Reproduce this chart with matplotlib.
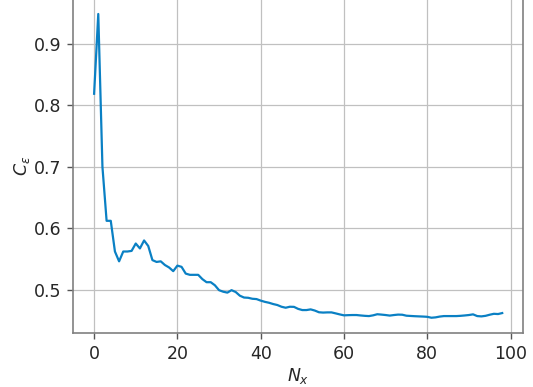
import matplotlib
matplotlib.use("Agg")
import matplotlib.pyplot as plt
import numpy as np

n_x = list(range(99))
c_eps = [
    0.819, 0.949, 0.700, 0.612, 0.612, 0.562, 0.546, 0.562, 0.562, 0.563,
    0.575, 0.567, 0.580, 0.571, 0.548, 0.545, 0.546, 0.540, 0.536, 0.530,
    0.539, 0.537, 0.526, 0.524, 0.524, 0.524, 0.517, 0.512, 0.512, 0.507,
    0.499, 0.4965, 0.495, 0.499, 0.496, 0.490, 0.487, 0.4866, 0.485, 0.4845,
    0.482, 0.480, 0.4785, 0.4764, 0.4748, 0.472, 0.4704, 0.472, 0.4718, 0.4685,
    0.4666, 0.4666, 0.4677, 0.4658, 0.4630, 0.4625, 0.4628, 0.4628, 0.4612, 0.4595,
    0.4580, 0.4583, 0.4585, 0.4585, 0.4578, 0.4572, 0.4568, 0.4580, 0.4598, 0.4592,
    0.4585, 0.4576, 0.4585, 0.4592, 0.4590, 0.4574, 0.4570, 0.4566, 0.4563, 0.4560,
    0.4556, 0.4541, 0.4547, 0.4560, 0.4568, 0.4568, 0.4568, 0.4568, 0.4572, 0.4578,
    0.4585, 0.4596, 0.4568, 0.4563, 0.4572, 0.4590, 0.4605, 0.4601, 0.4617,
]
x_ticks = [0, 20, 40, 60, 80, 100]
y_ticks = [0.5, 0.6, 0.7, 0.8, 0.9]

fig = plt.figure(figsize=(5.33, 3.87), dpi=100)
ax = fig.add_axes([0.1375, 0.1387, 0.843, 0.8653])
ax.plot(n_x, c_eps, color="#0a80c4", lw=1.6)
ax.set_xlim(-5.0, 102.9)
ax.set_ylim(0.4287, 0.9743)
ax.set_xticks(x_ticks)
ax.set_yticks(y_ticks)
ax.grid(True, color="#c0c0c0", lw=0.9)
ax.set_axisbelow(True)
for s in ax.spines.values():
    s.set_color("#808080")
    s.set_linewidth(1.2)
ax.tick_params(colors="#262626", labelsize=12.5, length=4, width=1,
               direction="out", pad=4.5)
ax.tick_params(axis="both", color="#555555")
ax.set_xlabel(r"$N_x$", fontsize=12.5, color="#262626", labelpad=2)
ax.set_ylabel(r"$C_\varepsilon$", fontsize=12.5, color="#262626", labelpad=1)
fig.savefig("out.png", dpi=100)
